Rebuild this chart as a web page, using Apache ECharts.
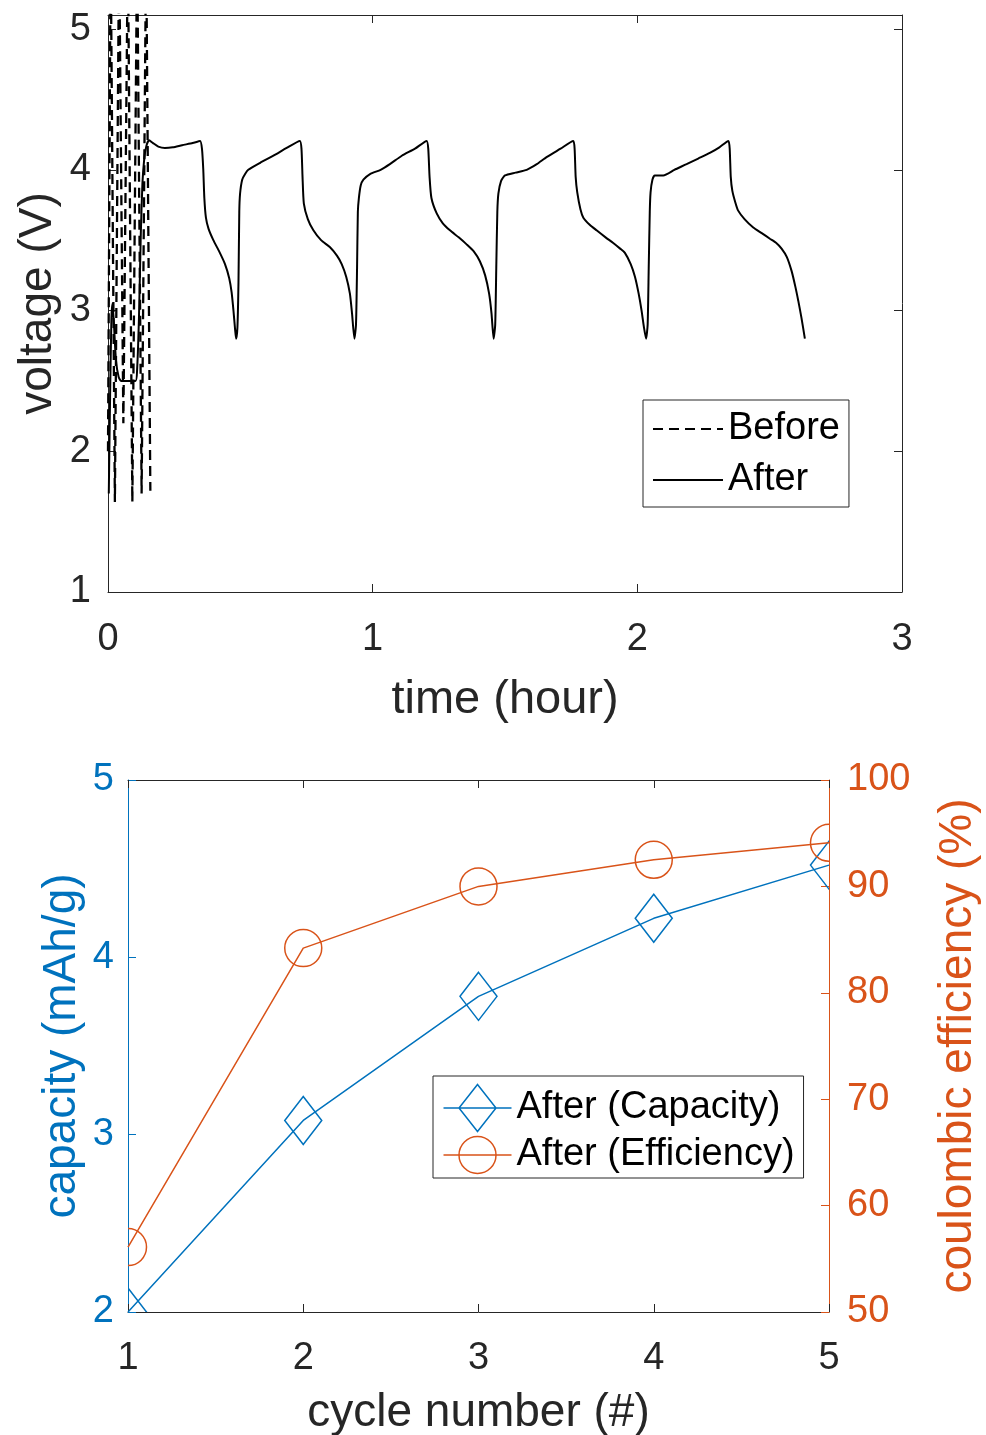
<!DOCTYPE html>
<html>
<head>
<meta charset="utf-8">
<script src="https://cdn.jsdelivr.net/npm/echarts@6/dist/echarts.min.js"></script>
<style>
  html, body { margin: 0; padding: 0; background: #ffffff; }
  #chart { width: 986px; height: 1435px; }
</style>
</head>
<body>
<div id="chart"></div>
<script>
// ---- Voltage profile (time in hours, voltage in V) ----
const beforeVoltage = [
  [0.000, 2.00], [0.010, 5.60], [0.026, 1.64], [0.042, 5.60], [0.058, 2.20],
  [0.075, 5.60], [0.092, 1.64], [0.110, 5.60], [0.127, 1.70], [0.144, 5.60],
  [0.160, 1.72]
];

const afterVoltage = [
  [0.003, 1.70], [0.008, 2.40], [0.013, 2.95], [0.017, 3.05], [0.022, 2.92],
  [0.030, 2.65], [0.040, 2.53], [0.050, 2.50], [0.104, 2.50], [0.110, 2.58],
  [0.117, 2.95], [0.124, 3.55], [0.130, 3.90], [0.137, 4.08], [0.145, 4.17],
  [0.155, 4.21], [0.170, 4.19], [0.190, 4.165], [0.215, 4.155], [0.245, 4.16],
  [0.280, 4.175], [0.320, 4.19], [0.348, 4.205],
  [0.355, 4.15], [0.360, 4.00], [0.364, 3.80], [0.370, 3.66], [0.380, 3.58],
  [0.398, 3.50], [0.420, 3.42], [0.442, 3.33], [0.458, 3.23], [0.467, 3.13],
  [0.474, 3.00], [0.480, 2.87], [0.484, 2.80], [0.489, 2.88], [0.493, 3.20],
  [0.496, 3.70], [0.499, 3.83], [0.507, 3.93], [0.518, 3.97], [0.530, 4.00],
  [0.575, 4.05], [0.625, 4.10], [0.675, 4.155], [0.725, 4.205],
  [0.731, 4.15], [0.735, 3.95], [0.740, 3.76], [0.755, 3.65], [0.776, 3.57],
  [0.805, 3.50], [0.839, 3.45], [0.865, 3.39], [0.883, 3.33], [0.900, 3.24],
  [0.914, 3.12], [0.922, 2.98], [0.931, 2.80], [0.937, 2.90], [0.941, 3.30],
  [0.944, 3.70], [0.948, 3.80], [0.955, 3.89], [0.965, 3.93], [0.990, 3.97],
  [1.030, 4.00], [1.065, 4.04], [1.110, 4.10], [1.160, 4.15], [1.204, 4.205],
  [1.210, 4.15], [1.215, 3.95], [1.222, 3.80], [1.242, 3.69], [1.265, 3.62],
  [1.292, 3.57], [1.325, 3.52], [1.355, 3.47], [1.382, 3.42], [1.405, 3.35],
  [1.425, 3.25], [1.440, 3.12], [1.449, 2.98], [1.457, 2.80], [1.463, 2.90],
  [1.467, 3.30], [1.471, 3.70], [1.475, 3.83], [1.485, 3.92], [1.500, 3.96],
  [1.540, 3.98], [1.582, 4.00], [1.620, 4.04], [1.657, 4.09], [1.710, 4.15],
  [1.758, 4.205],
  [1.763, 4.15], [1.767, 3.95], [1.773, 3.84], [1.785, 3.72], [1.796, 3.66],
  [1.820, 3.61], [1.846, 3.57], [1.880, 3.52], [1.909, 3.48], [1.935, 3.44],
  [1.953, 3.41], [1.975, 3.33], [1.991, 3.24], [2.005, 3.12], [2.016, 3.00],
  [2.025, 2.88], [2.033, 2.80], [2.039, 2.90], [2.043, 3.30], [2.047, 3.70],
  [2.050, 3.84], [2.057, 3.93], [2.066, 3.96], [2.098, 3.96], [2.140, 4.00],
  [2.186, 4.04], [2.230, 4.08], [2.274, 4.12], [2.310, 4.16], [2.344, 4.205],
  [2.349, 4.15], [2.353, 3.95], [2.359, 3.85], [2.370, 3.77], [2.381, 3.71],
  [2.405, 3.65], [2.438, 3.59], [2.470, 3.55], [2.501, 3.51], [2.525, 3.48],
  [2.545, 3.44], [2.565, 3.38], [2.583, 3.28], [2.597, 3.17], [2.608, 3.07],
  [2.620, 2.95], [2.633, 2.80]
];

// ---- Cycling results ----
const cycleNumbers = [1, 2, 3, 4, 5];
const capacityValues = [2.00, 3.08, 3.78, 4.22, 4.52];      // mAh/g
const efficiencyValues = [56.1, 84.2, 90.0, 92.5, 94.1];    // %

// ---- Axis ranges / ticks: [min, max, interval] ----
const timeRange = [0, 3, 1];
const voltageRange = [1, 5.1, 1];
const cycleRange = [1, 5, 1];
const capacityRange = [2, 5, 1];
const efficiencyRange = [50, 100, 10];

const FONT = "'Liberation Sans', Arial, Helvetica, sans-serif";
const INK = '#262626';
const BLUE = '#0072BD';
const ORANGE = '#D95319';
const TICK_SIZE = 38;
const NAME_SIZE = 46;
const DASH = [10, 6];

const pairs = (xs, ys) => xs.map((x, i) => [x, ys[i]]);

function frameAxis(gridIndex, range, position, color, withLabels) {
  return {
    type: 'value',
    gridIndex: gridIndex,
    position: position,
    min: range[0], max: range[1], interval: range[2],
    axisLine: { show: true, onZero: false, lineStyle: { color: color, width: 1 } },
    axisTick: { show: true, inside: true, length: 8, lineStyle: { color: color, width: 1 } },
    axisLabel: {
      show: withLabels, color: color, fontSize: TICK_SIZE, fontFamily: FONT,
      formatter: v => (Number.isInteger(v) ? String(v) : '')
    },
    splitLine: { show: false },
    nameMoveOverlap: false
  };
}

function axisName(axis, text, gap, color, size) {
  axis.name = text;
  axis.nameLocation = 'middle';
  axis.nameGap = gap;
  axis.nameTextStyle = { color: color, fontSize: size || NAME_SIZE, fontFamily: FONT };
  return axis;
}

// hollow markers, clipped to the plot box
function diamondMarker(params, api) {
  const c = api.coord([api.value(0), api.value(1)]);
  const hw = 18.5, hh = 24;
  return {
    type: 'polygon',
    shape: { points: [[c[0], c[1] - hh], [c[0] + hw, c[1]], [c[0], c[1] + hh], [c[0] - hw, c[1]]] },
    style: { fill: 'none', stroke: BLUE, lineWidth: 1.5 }
  };
}
function circleMarker(params, api) {
  const c = api.coord([api.value(0), api.value(1)]);
  return {
    type: 'circle',
    shape: { cx: c[0], cy: c[1], r: 18.5 },
    style: { fill: 'none', stroke: ORANGE, lineWidth: 1.5 }
  };
}

const diamondIcon = 'path://M0,23.5L68,23.5M34,0L52.5,23.5L34,47L15.5,23.5Z';
const circleIcon = 'path://M0,23.5L68,23.5M52.5,23.5A18.5,18.5,0,1,1,15.5,23.5A18.5,18.5,0,1,1,52.5,23.5Z';

const xTimeBottom = axisName(frameAxis(0, timeRange, 'bottom', INK, true), 'time (hour)', 85, INK, 47);
xTimeBottom.axisLabel.margin = 29;
const xTimeTop = frameAxis(0, timeRange, 'top', INK, false);
const yVoltLeft = axisName(frameAxis(0, voltageRange, 'left', INK, true), 'voltage (V)', 47, INK);
yVoltLeft.axisLabel.margin = 17;
const yVoltRight = frameAxis(0, voltageRange, 'right', INK, false);

const xCycleBottom = axisName(frameAxis(1, cycleRange, 'bottom', INK, true), 'cycle number (#)', 78, INK);
xCycleBottom.axisLabel.margin = 28;
const xCycleTop = frameAxis(1, cycleRange, 'top', INK, false);
const yCapacity = axisName(frameAxis(1, capacityRange, 'left', BLUE, true), 'capacity (mAh/g)', 43, BLUE);
yCapacity.axisLabel.margin = 14;
const yEfficiency = axisName(frameAxis(1, efficiencyRange, 'right', ORANGE, true), 'coulombic efficiency (%)', 106, ORANGE);
yEfficiency.axisLabel.margin = 18;

const option = {
  backgroundColor: '#ffffff',
  animation: false,
  textStyle: { fontFamily: FONT },
  grid: [
    { left: 108, top: 15, width: 794, height: 577, outerBoundsMode: 'none', containLabel: false },
    { left: 128, top: 780, width: 701, height: 532, outerBoundsMode: 'none', containLabel: false }
  ],
  xAxis: [xTimeBottom, xTimeTop, xCycleBottom, xCycleTop],
  yAxis: [yVoltLeft, yVoltRight, yCapacity, yEfficiency],
  legend: [
    {
      data: [
        { name: 'Before', lineStyle: { color: '#000000', width: 2, type: DASH } },
        { name: 'After', lineStyle: { color: '#000000', width: 2, type: 'solid' } }
      ],
      orient: 'vertical',
      left: 643, top: 400,
      itemWidth: 70, itemHeight: 30, itemGap: 13,
      padding: [10, 9, 8, 9],
      borderColor: INK, borderWidth: 1, borderRadius: 0,
      backgroundColor: '#ffffff',
      selectedMode: false,
      itemStyle: { opacity: 0 },
      textStyle: { color: '#000000', fontSize: TICK_SIZE, fontFamily: FONT }
    },
    {
      data: [
        { name: 'After (Capacity)', icon: diamondIcon,
          itemStyle: { color: 'none', borderColor: BLUE, borderWidth: 1.5 } },
        { name: 'After (Efficiency)', icon: circleIcon,
          itemStyle: { color: 'none', borderColor: ORANGE, borderWidth: 1.5 } }
      ],
      orient: 'vertical',
      left: 433, top: 1076,
      itemWidth: 68, itemHeight: 47, itemGap: 0,
      padding: [6, 9, 2, 8],
      borderColor: INK, borderWidth: 1, borderRadius: 0,
      backgroundColor: '#ffffff',
      selectedMode: false,
      textStyle: { color: '#000000', fontSize: TICK_SIZE, fontFamily: FONT }
    }
  ],
  series: [
    {
      name: 'Before', type: 'line', xAxisIndex: 0, yAxisIndex: 0,
      data: beforeVoltage, symbol: 'none', clip: true,
      itemStyle: { color: '#000000' },
      lineStyle: { color: '#000000', width: 2.3, type: DASH }
    },
    {
      name: 'After', type: 'line', xAxisIndex: 0, yAxisIndex: 0,
      data: afterVoltage, symbol: 'none', clip: true, smooth: 0.2,
      itemStyle: { color: '#000000' },
      lineStyle: { color: '#000000', width: 2 }
    },
    {
      name: 'After (Capacity)', type: 'line', xAxisIndex: 2, yAxisIndex: 2,
      data: pairs(cycleNumbers, capacityValues), symbol: 'none', clip: true,
      lineStyle: { color: BLUE, width: 1.5 }, itemStyle: { color: BLUE }
    },
    {
      type: 'custom', coordinateSystem: 'cartesian2d', xAxisIndex: 2, yAxisIndex: 2,
      data: pairs(cycleNumbers, capacityValues), encode: { x: 0, y: 1 },
      renderItem: diamondMarker, clip: true, silent: true, z: 3
    },
    {
      name: 'After (Efficiency)', type: 'line', xAxisIndex: 2, yAxisIndex: 3,
      data: pairs(cycleNumbers, efficiencyValues), symbol: 'none', clip: true,
      lineStyle: { color: ORANGE, width: 1.5 }, itemStyle: { color: ORANGE }
    },
    {
      type: 'custom', coordinateSystem: 'cartesian2d', xAxisIndex: 2, yAxisIndex: 3,
      data: pairs(cycleNumbers, efficiencyValues), encode: { x: 0, y: 1 },
      renderItem: circleMarker, clip: true, silent: true, z: 3
    }
  ]
};

const chart = echarts.init(document.getElementById('chart'), null, { renderer: 'canvas' });
chart.setOption(option);
</script>
</body>
</html>
